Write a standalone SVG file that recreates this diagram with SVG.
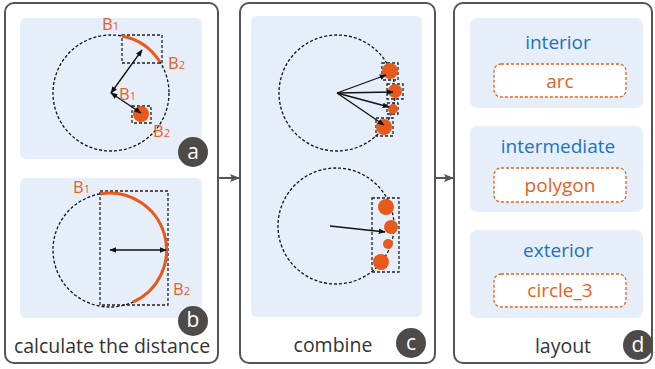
<svg xmlns="http://www.w3.org/2000/svg" width="655" height="369" viewBox="0 0 655 369">
<defs>
<style>
.panel{fill:#fff;stroke:#555;stroke-width:2}
.bg{fill:#e6eff9}
.dc{fill:none;stroke:#111;stroke-width:1.3;stroke-dasharray:3 2}
.dr{fill:none;stroke:#222;stroke-width:1.3;stroke-dasharray:3 2}
.arc{fill:none;stroke:#e85a1b;stroke-width:3}
.dot{fill:#e85a1b}
.ar{stroke:#111;stroke-width:1.3;fill:none}
.bl{font-family:"Open Sans","Noto Sans",sans-serif;font-size:16.5px;fill:#e8601f}
.cap{font-family:"Open Sans","Noto Sans",sans-serif;font-size:19.5px;fill:#333;text-anchor:middle}
.badge{fill:#4d4a48}
.bt{font-family:"Open Sans","Noto Sans",sans-serif;font-size:21px;fill:#fff;text-anchor:middle}
.lt{font-family:"Open Sans","Noto Sans",sans-serif;font-size:19px;fill:#2371bd;text-anchor:middle}
.ot{font-family:"Open Sans","Noto Sans",sans-serif;font-size:19px;fill:#e8601f;text-anchor:middle}
.ob{fill:#fff;stroke:#e8601f;stroke-width:1.3;stroke-dasharray:3 2}
.conn{stroke:#555;stroke-width:2;fill:none}
</style>
<marker id="ah" viewBox="0 0 10 10" refX="9" refY="5" markerWidth="7" markerHeight="7" orient="auto-start-reverse" markerUnits="userSpaceOnUse"><path d="M0,1 L10,5 L0,9 z" fill="#111"/></marker>
<marker id="gh" viewBox="0 0 10 10" refX="9" refY="5" markerWidth="10" markerHeight="10" orient="auto" markerUnits="userSpaceOnUse"><path d="M0,1 L10,5 L0,9 L2,5 z" fill="#555"/></marker>
</defs>

<g id="panel-a-b">
<rect class="panel" x="5" y="3" width="213" height="360" rx="9"/>
<g id="node-a">
<rect class="bg" x="20" y="18" width="182" height="141" rx="6"/>
<circle class="dc" cx="111" cy="93" r="58"/>
<rect class="dr" x="122" y="35" width="40" height="28"/>
<path class="arc" d="M122,36 A58,58 0 0 1 160,62"/>
<rect class="dr" x="132" y="106" width="19" height="17"/>
<circle class="dot" cx="141" cy="114" r="8"/>
<line class="ar" x1="111" y1="93" x2="142" y2="50" marker-start="url(#ah)" marker-end="url(#ah)"/>
<line class="ar" x1="111" y1="93" x2="141" y2="113" marker-start="url(#ah)" marker-end="url(#ah)"/>
<text class="bl" x="102" y="30">B<tspan font-size="11">1</tspan></text>
<text class="bl" x="168" y="69">B<tspan font-size="11">2</tspan></text>
<text class="bl" x="119" y="100">B<tspan font-size="11">1</tspan></text>
<text class="bl" x="153" y="137">B<tspan font-size="11">2</tspan></text>
<circle class="badge" cx="193" cy="152" r="15"/>
<text class="bt" x="193" y="159">a</text>
</g>
<g id="node-b">
<rect class="bg" x="20" y="178" width="182" height="140" rx="6"/>
<circle class="dc" cx="110" cy="250" r="57"/>
<rect class="dr" x="100" y="191" width="68" height="114"/>
<path class="arc" d="M101,193.7 A57,57 0 0 1 133,302"/>
<line class="ar" x1="110" y1="250" x2="166" y2="250" marker-start="url(#ah)" marker-end="url(#ah)"/>
<text class="bl" x="73" y="193">B<tspan font-size="11">1</tspan></text>
<text class="bl" x="173" y="295">B<tspan font-size="11">2</tspan></text>
<circle class="badge" cx="193" cy="321" r="15"/>
<text class="bt" x="193" y="327">b</text>
</g>
<text class="cap" x="112" y="353">calculate the distance</text>
</g>

<g id="node-c">
<rect class="panel" x="240" y="3" width="195" height="360" rx="9"/>
<rect class="bg" x="251" y="16" width="171" height="301" rx="6"/>
<circle class="dc" cx="337" cy="93" r="58"/>
<rect class="dr" x="382" y="63" width="16" height="17"/>
<rect class="dr" x="387" y="84" width="16" height="15"/>
<rect class="dr" x="387" y="103" width="11" height="11"/>
<rect class="dr" x="376" y="118" width="17" height="18"/>
<circle class="dot" cx="390" cy="71" r="8"/>
<circle class="dot" cx="395" cy="91" r="7"/>
<circle class="dot" cx="393" cy="109" r="5"/>
<circle class="dot" cx="384" cy="127" r="8"/>
<line class="ar" x1="337" y1="93" x2="386" y2="75" marker-end="url(#ah)"/>
<line class="ar" x1="337" y1="93" x2="393" y2="92" marker-end="url(#ah)"/>
<line class="ar" x1="337" y1="93" x2="389" y2="107" marker-end="url(#ah)"/>
<line class="ar" x1="337" y1="93" x2="384" y2="125" marker-end="url(#ah)"/>
<circle class="dc" cx="336" cy="226" r="58"/>
<rect class="dr" x="372" y="198" width="27" height="74"/>
<circle class="dot" cx="386" cy="207" r="8"/>
<circle class="dot" cx="391" cy="227" r="7"/>
<circle class="dot" cx="388" cy="244" r="5"/>
<circle class="dot" cx="381" cy="262" r="8"/>
<line class="ar" x1="330" y1="226" x2="385" y2="232" marker-end="url(#ah)"/>
<text class="cap" x="333" y="352">combine</text>
<circle class="badge" cx="411" cy="343" r="15"/>
<text class="bt" x="411" y="350">c</text>
</g>

<g id="node-d">
<rect class="panel" x="454" y="3" width="198" height="360" rx="9"/>
<g id="interior">
<rect class="bg" x="470" y="18" width="173" height="90" rx="7"/>
<text class="lt" x="558" y="49">interior</text>
<rect class="ob" x="494" y="64" width="132" height="33" rx="7"/>
<text class="ot" x="560" y="88">arc</text>
</g>
<g id="intermediate">
<rect class="bg" x="470" y="126" width="173" height="86" rx="7"/>
<text class="lt" x="558" y="153">intermediate</text>
<rect class="ob" x="494" y="168" width="132" height="34" rx="7"/>
<text class="ot" x="560" y="192">polygon</text>
</g>
<g id="exterior">
<rect class="bg" x="470" y="230" width="173" height="88" rx="7"/>
<text class="lt" x="558" y="257">exterior</text>
<rect class="ob" x="494" y="274" width="132" height="33" rx="7"/>
<text class="ot" x="560" y="297">circle_3</text>
</g>
<text class="cap" x="563" y="353">layout</text>
<circle class="badge" cx="638" cy="345" r="15"/>
<text class="bt" x="638" y="352">d</text>
</g>

<g id="connectors">
<line class="conn" x1="219" y1="178" x2="239" y2="178" marker-end="url(#gh)"/>
<line class="conn" x1="436" y1="178" x2="453" y2="178" marker-end="url(#gh)"/>
</g>
</svg>
